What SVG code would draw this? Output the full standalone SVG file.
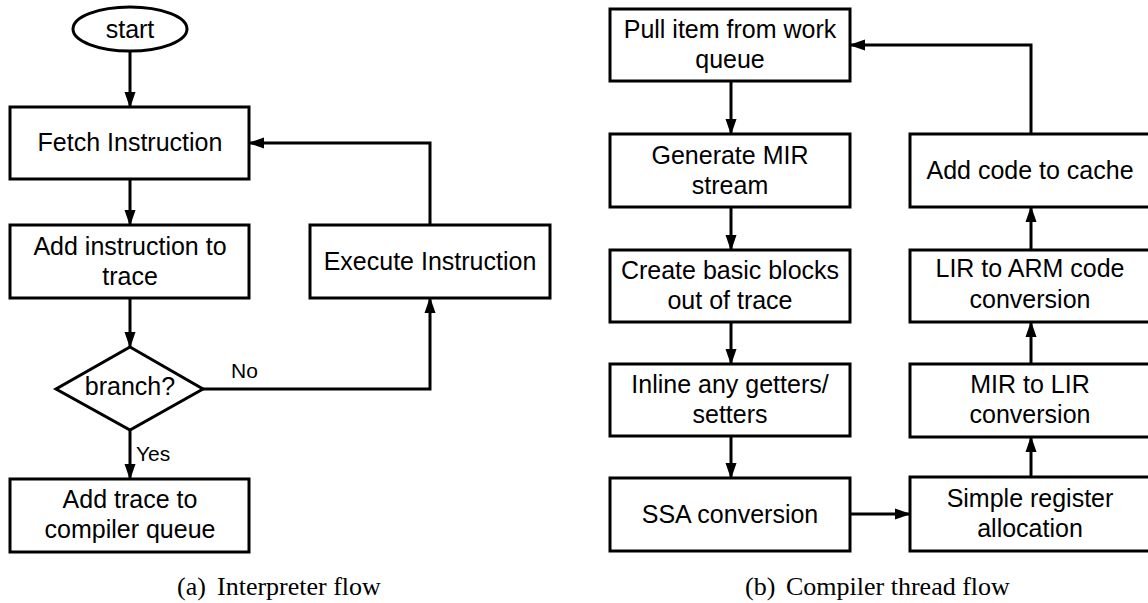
<svg xmlns="http://www.w3.org/2000/svg" width="1148" height="603" viewBox="0 0 1148 603">
<defs>
<marker id="ah" markerWidth="16" markerHeight="12" viewBox="0 0 16 12" refX="15" refY="6" orient="auto" markerUnits="userSpaceOnUse">
<path d="M0,0.5 L16,6 L0,11.5 Z" fill="#000"/>
</marker>
<style>
.box{fill:#fff;stroke:#000;stroke-width:3}
.t{font-family:"Liberation Sans",Arial,Helvetica,sans-serif;font-size:25px;fill:#000;text-anchor:middle}
.lbl{font-family:"Liberation Sans",Arial,Helvetica,sans-serif;font-size:21px;fill:#000}
.cap{font-family:"Liberation Serif","Times New Roman",serif;font-size:26px;fill:#000}
.c{fill:none;stroke:#000;stroke-width:3;marker-end:url(#ah)}
</style>
</defs>
<rect width="1148" height="603" fill="#fff"/>

<g id="connectors">
<path class="c" d="M130,51 V107"/>
<path class="c" d="M130,179 V225"/>
<path class="c" d="M130,298 V347"/>
<path class="c" d="M130,430 V479"/>
<path class="c" d="M203,389 H430 V298"/>
<path class="c" d="M430,225 V143 H249"/>
<path class="c" d="M731,81 V134"/>
<path class="c" d="M731,207 V250"/>
<path class="c" d="M731,322 V364"/>
<path class="c" d="M731,436 V478"/>
<path class="c" d="M850,514 H910"/>
<path class="c" d="M1031,477 V437"/>
<path class="c" d="M1031,364 V322"/>
<path class="c" d="M1031,250 V207"/>
<path class="c" d="M1031,134 V45 H850"/>
<text class="lbl" x="231" y="378">No</text>
<text class="lbl" x="136" y="461">Yes</text>
</g>

<g id="start">
<ellipse class="box" cx="130" cy="29" rx="57" ry="22"/>
<text class="t" x="130" y="38">start</text>
</g>
<g id="fetch">
<rect class="box" x="10" y="107" width="239" height="72"/>
<text class="t" x="130" y="151">Fetch Instruction</text>
</g>
<g id="addinstr">
<rect class="box" x="10" y="225" width="239" height="73"/>
<text class="t" x="130" y="255">Add instruction to</text>
<text class="t" x="130" y="285">trace</text>
</g>
<g id="execute">
<rect class="box" x="310" y="225" width="240" height="73"/>
<text class="t" x="430" y="270">Execute Instruction</text>
</g>
<g id="branch">
<polygon class="box" points="130,347 203,389 130,430 56,389"/>
<text class="t" x="130" y="395">branch?</text>
</g>
<g id="addtrace">
<rect class="box" x="10" y="479" width="239" height="73"/>
<text class="t" x="130" y="508">Add trace to</text>
<text class="t" x="130" y="538">compiler queue</text>
</g>

<g id="pull">
<rect class="box" x="610" y="9" width="240" height="72"/>
<text class="t" x="730" y="38">Pull item from work</text>
<text class="t" x="730" y="68">queue</text>
</g>
<g id="generate">
<rect class="box" x="610" y="134" width="240" height="73"/>
<text class="t" x="730" y="164">Generate MIR</text>
<text class="t" x="730" y="194">stream</text>
</g>
<g id="create">
<rect class="box" x="610" y="250" width="240" height="72"/>
<text class="t" x="730" y="279">Create basic blocks</text>
<text class="t" x="730" y="309">out of trace</text>
</g>
<g id="inline">
<rect class="box" x="610" y="364" width="240" height="72"/>
<text class="t" x="730" y="393">Inline any getters/</text>
<text class="t" x="730" y="423">setters</text>
</g>
<g id="ssa">
<rect class="box" x="610" y="478" width="240" height="73"/>
<text class="t" x="730" y="523">SSA conversion</text>
</g>
<g id="simple">
<rect class="box" x="910" y="477" width="240" height="74"/>
<text class="t" x="1030" y="507">Simple register</text>
<text class="t" x="1030" y="537">allocation</text>
</g>
<g id="mirlir">
<rect class="box" x="910" y="364" width="240" height="73"/>
<text class="t" x="1030" y="393">MIR to LIR</text>
<text class="t" x="1030" y="423">conversion</text>
</g>
<g id="lirarm">
<rect class="box" x="910" y="250" width="240" height="72"/>
<text class="t" x="1030" y="277">LIR to ARM code</text>
<text class="t" x="1030" y="308">conversion</text>
</g>
<g id="addcode">
<rect class="box" x="910" y="134" width="240" height="73"/>
<text class="t" x="1030" y="179">Add code to cache</text>
</g>

<g id="captions">
<text class="cap" x="177" y="595">(a)<tspan x="217">Interpreter flow</tspan></text>
<text class="cap" x="745" y="595">(b)<tspan x="786">Compiler thread flow</tspan></text>
</g>
</svg>
